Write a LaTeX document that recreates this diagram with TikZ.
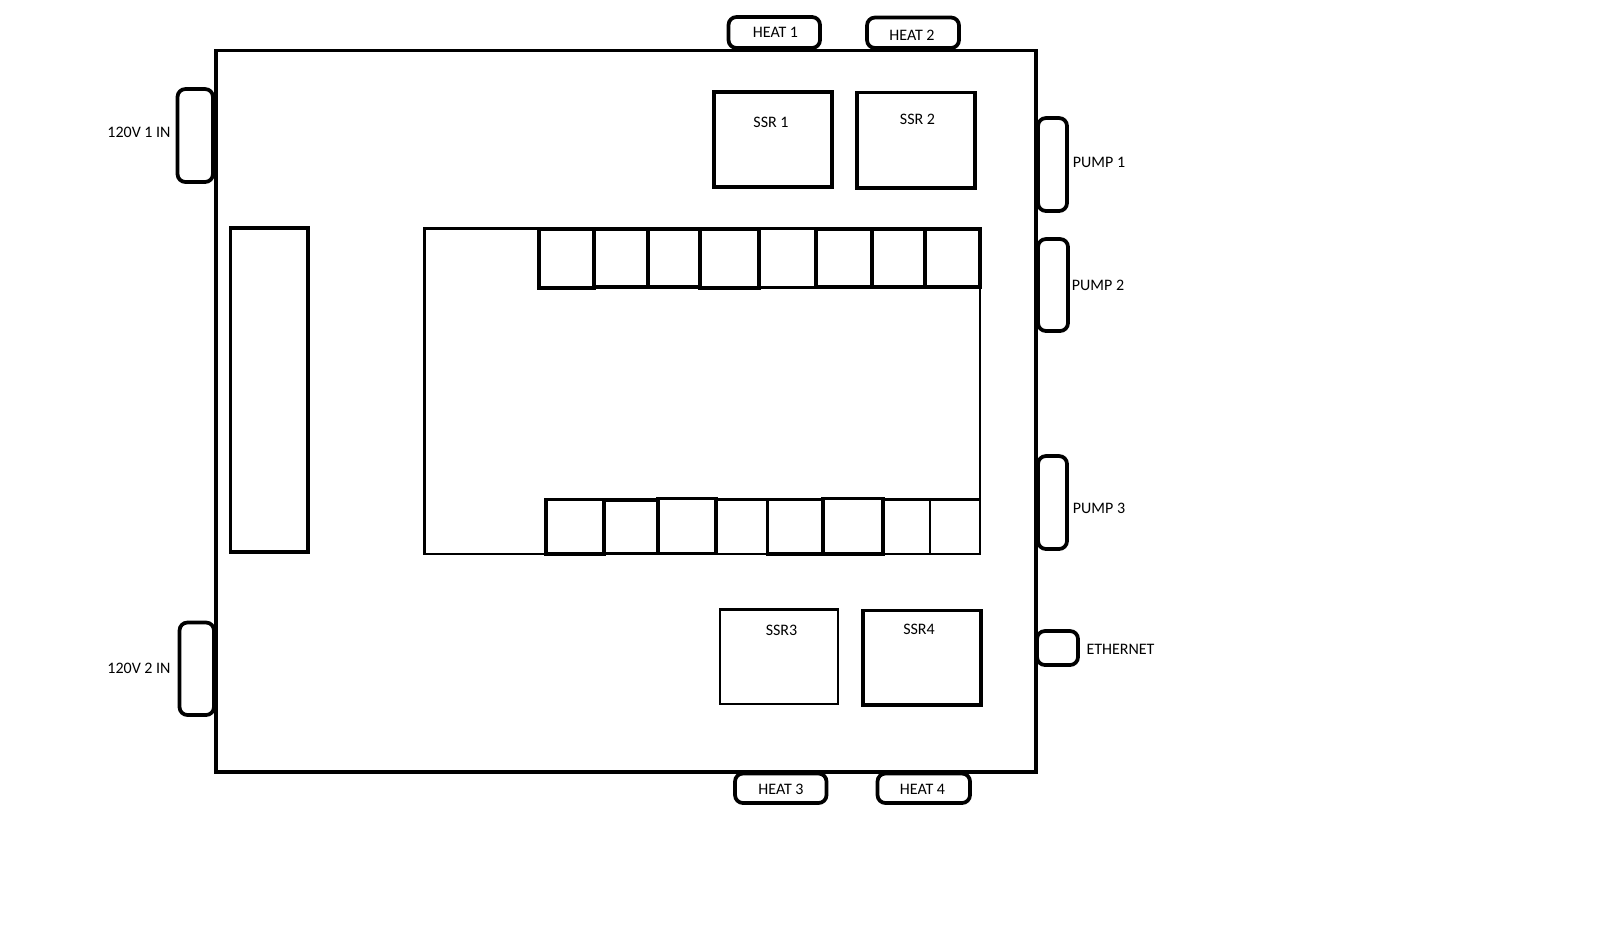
\documentclass[tikz,border=0pt]{standalone}
\usepackage{fontspec}
\setmainfont{Carlito}
\usepackage{tikz}

\begin{document}
\begin{tikzpicture}[x=0.75pt, y=-0.75pt, box/.style={draw=black, line width=2.4pt}, thin box/.style={draw=black, line width=2.2pt}, port/.style={draw=black, line width=2.8pt, rounded corners=6pt}, label node/.style={inner sep=0pt, font=\fontsize{12}{14}\selectfont}]

			\useasboundingbox (0,0) rectangle (1600,929);

			% Enclosure and terminal block
			\draw[box] (216,50.5) rectangle (1036,772);
			\draw[box] (230.5,228) rectangle (308,552);
			\draw[thin box] (424.5,228.5) rectangle (980,554);

			% Solid state relays
			\draw[box] (714,92) rectangle (832,187);
			\draw[box] (857,92.5) rectangle (975,188);
			\draw[thin box] (720,609.5) rectangle (838,704);
			\draw[box] (863,610.5) rectangle (981,705);

			% Top row of slots
			\draw[box] (539,229) rectangle (594,288);
			\draw[box] (594,229) rectangle (648,287);
			\draw[box] (648,229) rectangle (700,287);
			\draw[box] (700,229) rectangle (759,288);
			\draw[thin box] (759,229) rectangle (816,287.5);
			\draw[box] (816,229) rectangle (872,287);
			\draw[box] (872,229) rectangle (925,287);
			\draw[box] (925,229) rectangle (980,287);

			% Bottom row of slots
			\draw[box] (546,499.5) rectangle (604,554);
			\draw[box] (604,500) rectangle (658,553.5);
			\draw[box] (658,498.5) rectangle (716,553.5);
			\draw[thin box] (716,499.5) rectangle (767.5,554);
			\draw[box] (767.5,499.5) rectangle (823,554);
			\draw[box] (823,498.5) rectangle (883,554);
			\draw[thin box] (883,499.5) rectangle (930,554);
			\draw[thin box] (930,499.5) rectangle (980,554);

			% Ports around the enclosure
			\draw[port] (177.5,89) rectangle (213,182);
			\draw[port] (179.5,622.5) rectangle (214,715);
			\draw[port] (1038,118) rectangle (1067,211);
			\draw[port] (1038,239) rectangle (1068,331);
			\draw[port] (1038,456) rectangle (1067,549);
			\draw[port] (1037,631) rectangle (1078,665);
			\draw[port] (728.5,17) rectangle (820,48);
			\draw[port] (867,17.5) rectangle (959,48);
			\draw[port] (735,773.5) rectangle (826.5,803);
			\draw[port] (877.5,773.5) rectangle (970,803);

			% Labels
			\node[label node] (in1) at (139,132) {120V 1 IN};
			\node[label node] (in2) at (139,668) {120V 2 IN};
			\node[label node] (heat1) at (775.5,32.5) {HEAT 1};
			\node[label node] (heat2) at (912,35.5) {HEAT 2};
			\node[label node] (heat3) at (781,789.5) {HEAT 3};
			\node[label node] (heat4) at (922.5,789.5) {HEAT 4};
			\node[label node] (ssr1) at (771,122) {SSR 1};
			\node[label node] (ssr2) at (917.5,119) {SSR 2};
			\node[label node] (ssr3) at (781.5,630) {SSR3};
			\node[label node] (ssr4) at (919,629) {SSR4};
			\node[label node] (pump1) at (1099,162) {PUMP 1};
			\node[label node] (pump2) at (1098,285) {PUMP 2};
			\node[label node] (pump3) at (1099,508) {PUMP 3};
			\node[label node] (ethernet) at (1120.5,649.5) {ETHERNET};

		\end{tikzpicture}
\end{document}
